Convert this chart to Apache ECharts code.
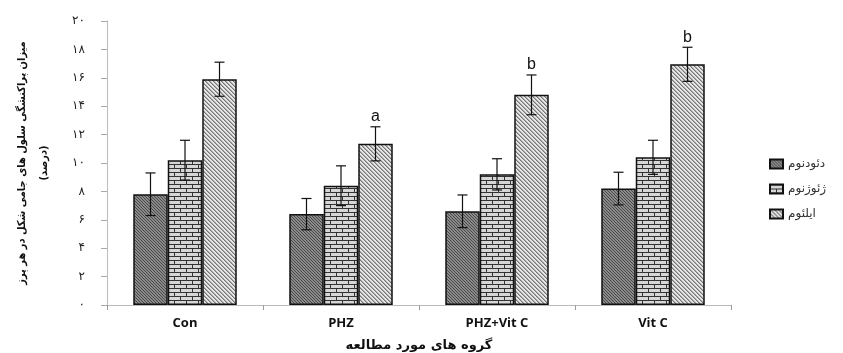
<!DOCTYPE html>
<html>
<head>
<meta charset="utf-8">
<script src="https://cdn.jsdelivr.net/npm/echarts@6/dist/echarts.min.js"></script>
<style>
  html, body { margin: 0; padding: 0; background: #fff; }
  #chart { width: 843px; height: 353px; }
</style>
</head>
<body>
<div id="chart"></div>
<script>
// data
const groups = ['Con', 'PHZ', 'PHZ+Vit C', 'Vit C'];
const seriesNames = ['دئودنوم', 'ژئوژنوم', 'ایلئوم'];
const duodenum = [7.8, 6.4, 6.6, 8.2];
const duodenumErr = [1.5, 1.1, 1.15, 1.15];
const jejunum = [10.2, 8.4, 9.2, 10.4];
const jejunumErr = [1.4, 1.4, 1.1, 1.2];
const ileum = [15.9, 11.35, 14.8, 16.95];
const ileumErr = [1.2, 1.2, 1.4, 1.2];
const ileumSig = ['', 'a', 'b', 'b'];
const yTicks = [0, 2, 4, 6, 8, 10, 12, 14, 16, 18, 20];

const faDigits = '۰۱۲۳۴۵۶۷۸۹';
const toFa = n => String(n).replace(/\d/g, d => faDigits[d]);

// fill patterns
const makePattern = (w, h, draw) => {
  const c = document.createElement('canvas');
  c.width = w; c.height = h;
  draw(c.getContext('2d'));
  return c;
};
const dotsPat = makePattern(3, 3, ctx => {
  ctx.fillStyle = '#8a8a8a'; ctx.fillRect(0, 0, 3, 3);
  ctx.fillStyle = '#4a4a4a';
  ctx.fillRect(0, 0, 1, 1); ctx.fillRect(1, 1, 1, 1); ctx.fillRect(2, 2, 1, 1);
});
const brickPat = makePattern(12, 8, ctx => {
  ctx.fillStyle = '#d6d6d6'; ctx.fillRect(0, 0, 12, 8);
  ctx.fillStyle = '#333';
  ctx.fillRect(0, 0, 12, 1); ctx.fillRect(0, 4, 12, 1);
  ctx.fillRect(0, 0, 1, 4); ctx.fillRect(6, 4, 1, 4);
});
const stripePat = makePattern(4, 4, ctx => {
  ctx.fillStyle = '#e6e6e6'; ctx.fillRect(0, 0, 4, 4);
  ctx.fillStyle = '#777';
  for (let i = 0; i < 4; i++) ctx.fillRect(i, i, 1, 1);
  ctx.fillStyle = '#aaa';
  for (let i = 0; i < 4; i++) ctx.fillRect((i + 1) % 4, i, 1, 1);
});
const patterns = [dotsPat, brickPat, stripePat];

const barW = 34.5;
const values = [duodenum, jejunum, ileum];
const errs = [duodenumErr, jejunumErr, ileumErr];

const chart = echarts.init(document.getElementById('chart'), null, { renderer: 'canvas' });

const barSeries = values.map((vals, i) => ({
  name: seriesNames[i],
  type: 'bar',
  barWidth: barW,
  barGap: '0%',
  data: vals,
  itemStyle: {
    color: { image: patterns[i], repeat: 'repeat' },
    borderColor: '#111',
    borderWidth: 1.5
  },
  emphasis: { disabled: true }
}));

const errSeries = values.map((vals, i) => ({
  type: 'custom',
  name: 'err' + i,
  z: 5,
  data: vals.map((v, k) => [k, v, errs[i][k]]),
  renderItem: (params, api) => {
    const k = api.value(0);
    const v = api.value(1);
    const e = api.value(2);
    const off = (i - 1) * barW;
    const top = api.coord([k, v + e]);
    const bot = api.coord([k, v - e]);
    const x = top[0] + off;
    const cap = 5;
    const style = { stroke: '#111', lineWidth: 1.2 };
    const children = [
      { type: 'line', shape: { x1: x, y1: top[1], x2: x, y2: bot[1] }, style },
      { type: 'line', shape: { x1: x - cap, y1: top[1], x2: x + cap, y2: top[1] }, style },
      { type: 'line', shape: { x1: x - cap, y1: bot[1], x2: x + cap, y2: bot[1] }, style }
    ];
    const sig = i === 2 ? ileumSig[params.dataIndex] : '';
    if (sig) {
      children.push({
        type: 'text',
        style: {
          text: sig, x: x, y: top[1] - 2,
          align: 'center', verticalAlign: 'bottom',
          font: '16px "Liberation Sans", Arial', fill: '#111'
        }
      });
    }
    return { type: 'group', children };
  }
}));

chart.setOption({
  animation: false,
  backgroundColor: '#fff',
  grid: { left: 107, right: 112, top: 21, bottom: 48, outerBoundsMode: 'none', containLabel: false },
  legend: {
    data: seriesNames,
    orient: 'vertical',
    left: 764,
    top: 153,
    icon: 'rect',
    itemWidth: 13,
    itemHeight: 9,
    itemGap: 13,
    textStyle: { fontFamily: 'DejaVu Sans', fontSize: 12, color: '#333' }
  },
  xAxis: {
    type: 'category',
    data: groups,
    axisLine: { lineStyle: { color: '#bbb' } },
    axisTick: { show: true, length: 5, lineStyle: { color: '#999' } },
    axisLabel: {
      margin: 12,
      fontFamily: '"Open Sans", "Liberation Sans"',
      fontWeight: 'bold',
      fontSize: 13,
      color: '#111'
    },
    name: 'گروه های مورد مطالعه',
    nameLocation: 'middle',
    nameGap: 34,
    nameTextStyle: { fontFamily: 'DejaVu Sans', fontWeight: 'bold', fontSize: 13, color: '#111' }
  },
  yAxis: {
    type: 'value',
    min: 0,
    max: 20,
    interval: 2,
    splitLine: { show: false },
    axisLine: { show: true, lineStyle: { color: '#bbb' } },
    axisTick: { show: true, length: 6, lineStyle: { color: '#aaa' } },
    axisLabel: {
      margin: 22,
      fontFamily: 'DejaVu Sans',
      fontSize: 12,
      color: '#222',
      formatter: v => yTicks.includes(v) ? toFa(v) : ''
    },
    name: 'میزان پراکنشگی سلول های جامی شکل در هر پرز\n(درصد)',
    nameLocation: 'middle',
    nameRotate: 90,
    nameGap: 52,
    nameTextStyle: {
      fontFamily: '"DejaVu Sans Condensed", "DejaVu Sans"', fontWeight: 'bold', fontSize: 11,
      color: '#111', lineHeight: 22, align: 'center'
    }
  },
  series: [...barSeries, ...errSeries]
});
</script>
</body>
</html>
